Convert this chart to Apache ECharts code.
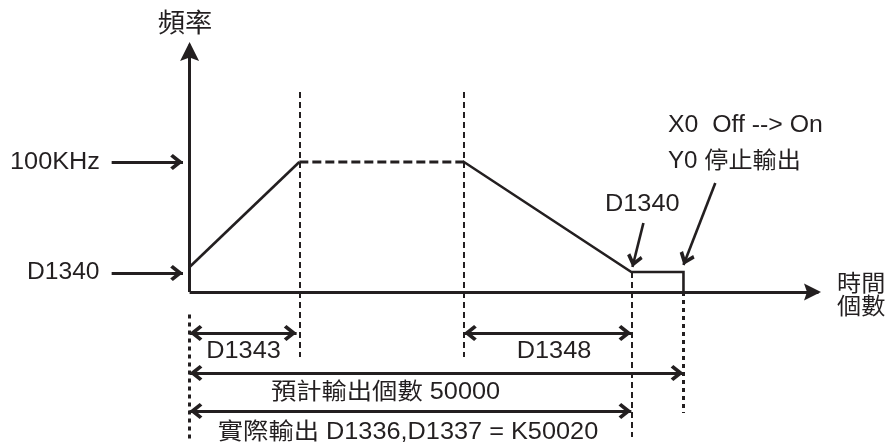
<!DOCTYPE html>
<html><head><meta charset="utf-8">
<script src="https://cdn.jsdelivr.net/npm/echarts@6/dist/echarts.min.js"></script>
<style>html,body{margin:0;padding:0;background:#fff}#c{width:892px;height:443px}</style>
</head><body><div id="c"></div>
<script>
// ---- data (schematic pulse-output profile) ----
const timePoints = [0, 20, 50, 80.5, 90, 90];     // start, end accel, start decel, end decel, stop, stop
const freqPoints = [10, 52, 52, 8, 8, 0];         // D1340 start, 100KHz, 100KHz, D1340 end, D1340, 0
const freqAxisEnd = 98.9;
const timeAxisEnd = 114.6;
const pointerLevels = { maxFreq: 52, startFreq: 7.6 };
const labels = {
  yTitle: '頻率', xTitle1: '時間', xTitle2: '個數',
  maxFreq: '100KHz', startFreq: 'D1340', endFreq: 'D1340',
  stop1: 'X0  Off --> On', stop2: 'Y0 停止輸出',
  accel: 'D1343', decel: 'D1348',
  planned: '預計輸出個數 50000', actual: '實際輸出 D1336,D1337 = K50020'
};

// ---- layout constants ----
const INK = '#231f20';
const rows = { dim: -16.4, plan: -32.4, act: -47.6 };
const chevron = 'path://M7.5,0 L15,9.5 L12.6,12 L7.5,5.6 L2.4,12 L0,9.5 Z';
const headPath = 'path://M8,0 L16,16 L8,13.2 L0,16 Z';
const FONT = '"Liberation Sans","Noto Sans CJK TC",sans-serif';

const chart = echarts.init(document.getElementById('c'), null, { renderer: 'canvas' });

function end(coord, sym, size, off) {
  return { coord: coord, symbol: sym || 'none', symbolSize: size || 1, symbolKeepAspect: true, symbolOffset: [0, off || '50%'] };
}
function seg(a, b, style, fromSym, toSym, size, off) {
  const p0 = end(a, fromSym, size, off), p1 = end(b, toSym, size, off);
  p0.lineStyle = style;
  return [p0, p1];
}
const solid3 = { type: 'solid', width: 3, color: INK };
const solid25 = { type: 'solid', width: 2.6, color: INK };
const dashThin = { type: [6, 4], width: 2, color: INK };
const dashThick = { type: [4, 4], width: 3, color: INK };
const CHV = [16, 12.8];

const t = timePoints, f = freqPoints;
const marks = [
  // axes
  seg([0, 0], [0, freqAxisEnd], solid3, 'none', headPath, [19, 19], '35%'),
  seg([0, 0], [timeAxisEnd, 0], solid3, 'none', headPath, [17, 17], '35%'),
  // guide verticals
  seg([t[1], 80], [t[1], -26], dashThin),
  seg([t[2], 80], [t[2], -26], dashThin),
  seg([t[3], f[3]], [t[3], -58], dashThin),
  seg([t[4], 0], [t[4], -48.4], dashThick),
  seg([t[0], -9], [t[0], -60], dashThick),
  // dimension arrows
  seg([t[0], rows.dim], [t[1] - 0.5, rows.dim], solid3, chevron, chevron, CHV),
  seg([t[2], rows.dim], [t[3], rows.dim], solid3, chevron, chevron, CHV),
  seg([t[0], rows.plan], [t[4], rows.plan], solid3, chevron, chevron, CHV),
  seg([t[0], rows.act], [t[3], rows.act], solid3, chevron, chevron, CHV),
  // pointer arrows
  seg([-14.2, pointerLevels.maxFreq], [-1.2, pointerLevels.maxFreq], solid3, 'none', chevron, CHV),
  seg([-14.2, pointerLevels.startFreq], [-1.2, pointerLevels.startFreq], solid3, 'none', chevron, CHV),
  seg([82.7, 27.6], [t[3] + 0.2, f[3] + 2], solid25, 'none', chevron, CHV),
  seg([95.8, 43.6], [t[4], f[4] + 2.8], solid25, 'none', chevron, CHV)
];

function txt(s, x, y, o) {
  o = o || {};
  return {
    type: 'text', x: x, y: y, scaleX: o.sx || 1.1, silent: true,
    style: { text: s, x: 0, y: 0, align: o.align || 'left', verticalAlign: 'middle',
      font: (o.size || 23) + 'px ' + FONT, fill: INK }
  };
}

const lineBase = { type: 'line', showSymbol: false, symbol: 'none', silent: true, animation: false };

chart.setOption({
  animation: false,
  backgroundColor: '#fff',
  grid: { left: 3, top: 2, width: 891, height: 440, containLabel: false },
  xAxis: { type: 'value', min: -34, max: 128, show: false },
  yAxis: { type: 'value', min: -60, max: 116, show: false },
  series: [
    Object.assign({}, lineBase, { name: 'accel',
      data: [[t[0], f[0]], [t[1], f[1]]],
      lineStyle: { color: INK, width: 2.6, type: 'solid' } }),
    Object.assign({}, lineBase, { name: 'cruise',
      data: [[t[1], f[1]], [t[2], f[2]]],
      lineStyle: { color: INK, width: 3, type: [9, 4] } }),
    Object.assign({}, lineBase, { name: 'decel',
      data: [[t[2], f[2]], [t[3], f[3]], [t[4], f[4]], [t[5], f[5]]],
      lineStyle: { color: INK, width: 2.6, type: 'solid', cap: 'square', join: 'miter' },
      markLine: { silent: true, animation: false, label: { show: false }, emphasis: { disabled: true },
        lineStyle: { type: 'solid', color: INK, width: 3 }, data: marks } })
  ],
  graphic: [
    txt(labels.yTitle, 185, 25, { align: 'center', size: 26, sx: 1.05 }),
    txt(labels.maxFreq, 10, 163),
    txt(labels.startFreq, 27, 273, { sx: 1.07 }),
    txt(labels.endFreq, 605, 205),
    txt(labels.stop1, 668, 126, { sx: 1.08 }),
    txt(labels.stop2, 668, 162, { sx: 1.05 }),
    txt(labels.xTitle1, 837, 285, { sx: 1.05 }),
    txt(labels.xTitle2, 837, 308, { sx: 1.05 }),
    txt(labels.accel, 243.5, 352, { align: 'center' }),
    txt(labels.decel, 554, 352, { align: 'center' }),
    txt(labels.planned, 385.5, 393, { align: 'center' }),
    txt(labels.actual, 408, 433, { align: 'center' })
  ]
});
</script></body></html>
